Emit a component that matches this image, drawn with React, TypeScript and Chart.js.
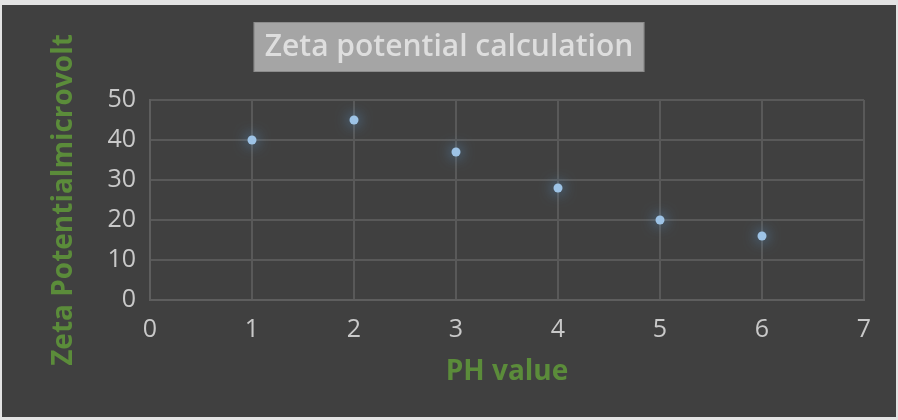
import React, { useEffect, useRef } from "react";
import { Chart, registerables } from "chart.js";

Chart.register(...registerables);

const phValues = [1, 2, 3, 4, 5, 6];
const zetaValues = [40, 45, 37, 28, 20, 16];
const chartTitle = "Zeta potential calculation";
const xAxisTitle = "PH value";
const yAxisTitle = "Zeta Potentialmicrovolt";

const titleBoxPlugin = {
  id: "titleBox",
  beforeDraw(chart: any) {
    const tb = chart.titleBlock;
    if (!tb) return;
    const ctx = chart.ctx;
    const font = tb.options.font;
    ctx.save();
    ctx.font = `600 ${font.size}px 'Open Sans', sans-serif`;
    const w = ctx.measureText(chartTitle).width;
    const cx = (tb.left + tb.right) / 2;
    const cy = tb.top + tb.options.padding.top + (font.size * 1.2) / 2;
    const bw = w + 22;
    const bh = 50;
    ctx.fillStyle = "#a5a5a5";
    ctx.fillRect(cx - bw / 2, cy - bh / 2, bw, bh);
    ctx.strokeStyle = "#8c8c8c";
    ctx.lineWidth = 1;
    ctx.strokeRect(cx - bw / 2 + 0.5, cy - bh / 2 + 0.5, bw - 1, bh - 1);
    ctx.restore();
  },
};

const glowPlugin = {
  id: "glow",
  beforeDatasetsDraw(chart: any) {
    const ctx = chart.ctx;
    ctx.save();
    ctx.shadowColor = "rgba(91,155,213,1)";
    ctx.shadowBlur = 14;
  },
  afterDatasetsDraw(chart: any) {
    chart.ctx.restore();
  },
};

export default function App() {
  const canvasRef = useRef<HTMLCanvasElement>(null);

  useEffect(() => {
    document.body.style.margin = "0";
    const canvas = canvasRef.current;
    if (!canvas) return;
    const chart = new Chart(canvas, {
      type: "scatter",
      data: {
        datasets: [
          {
            label: "Zeta",
            data: phValues.map((x, i) => ({ x, y: zetaValues[i] })),
            backgroundColor: "#9dc3e6",
            borderColor: "#9dc3e6",
            pointRadius: 4.5,
            pointBorderWidth: 0,
          },
        ],
      },
      options: {
        responsive: false,
        animation: false,
        layout: { padding: 0 },
        plugins: {
          legend: { display: false },
          tooltip: { enabled: false },
          title: {
            display: true,
            text: chartTitle,
            color: "#dedede",
            font: { family: "'Open Sans', sans-serif", size: 30, weight: "600", lineHeight: 1.2 },
            padding: { top: 24, bottom: 35 },
          },
        },
        scales: {
          x: {
            type: "linear",
            min: 0,
            max: 7,
            afterFit: (s: any) => {
              s.height = 117;
            },
            ticks: {
              stepSize: 1,
              color: "#c9c9c9",
              padding: 15,
              font: { family: "'Open Sans', sans-serif", size: 25 },
            },
            grid: { color: "#595959", lineWidth: 2, drawTicks: false },
            border: { color: "#5e5e5e", width: 2 },
            title: {
              display: true,
              text: xAxisTitle,
              color: "#5b8c3a",
              font: { family: "'Open Sans', sans-serif", size: 28, weight: "bold", lineHeight: 1.2 },
              padding: { top: 0, bottom: 28 },
            },
          },
          y: {
            type: "linear",
            min: 0,
            max: 50,
            afterFit: (s: any) => {
              s.width = 148;
            },
            ticks: {
              stepSize: 10,
              color: "#c9c9c9",
              padding: 14,
              font: { family: "'Open Sans', sans-serif", size: 25 },
            },
            grid: { color: "#595959", lineWidth: 2, drawTicks: false },
            border: { color: "#5e5e5e", width: 2 },
            title: {
              display: true,
              text: yAxisTitle,
              color: "#5b8c3a",
              font: { family: "'Open Sans', sans-serif", size: 28, weight: "bold", lineHeight: 1.2 },
              padding: { top: 45, bottom: 0 },
            },
          },
          yRight: {
            type: "linear",
            position: "right",
            min: 0,
            max: 50,
            display: true,
            afterFit: (s: any) => {
              s.width = 32;
            },
            ticks: { display: false },
            grid: { display: false, drawTicks: false },
            border: { display: false },
          },
        },
      },
      plugins: [titleBoxPlugin, glowPlugin],
    } as any);
    return () => chart.destroy();
  }, []);

  return (
    <div
      style={{
        width: 898,
        height: 420,
        boxSizing: "border-box",
        background: "#e3e3e3",
        padding: "5px 2px 3px 2px",
      }}
    >
      <canvas
        ref={canvasRef}
        width={894}
        height={412}
        style={{ display: "block", width: 894, height: 412, background: "#404040" }}
      />
    </div>
  );
}
